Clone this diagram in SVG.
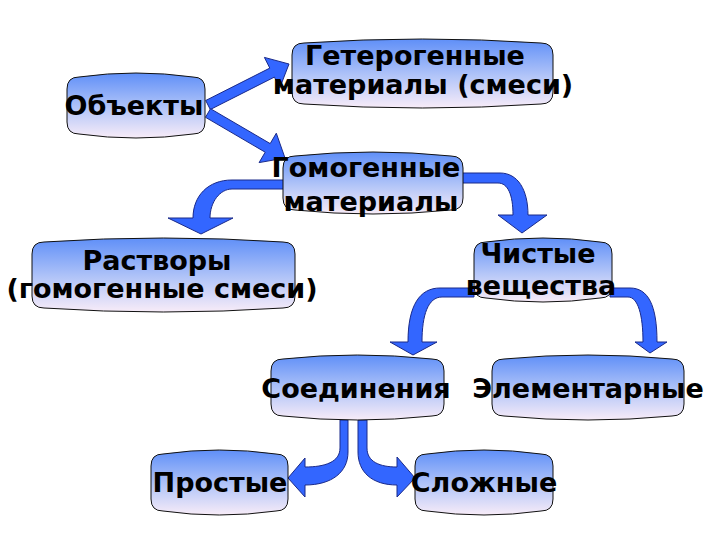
<svg xmlns="http://www.w3.org/2000/svg" width="720" height="540" viewBox="0 0 720 540">
<defs>
<linearGradient id="g" x1="0" y1="0" x2="0" y2="1">
<stop offset="0" stop-color="#5f8ff8"/>
<stop offset="0.55" stop-color="#b4c6f8"/>
<stop offset="1" stop-color="#f8ecf8"/>
</linearGradient>
<style>
.box{fill:url(#g);stroke:#111;stroke-width:1}
.t{font-family:"DejaVu Sans","Liberation Sans",sans-serif;font-weight:bold;font-size:27px;fill:#000;text-anchor:middle}
.arr{fill:#3366ff;stroke:#1a2a8a;stroke-width:1;stroke-linejoin:round}
</style>
</defs>
<rect width="720" height="540" fill="#fff"/>
<g id="connectors">
<path class="arr" d="M205.7,100.5 L269.8,68.1 L264.4,57.4 L289,64 L279.8,87.8 L274.4,77.1 L210.3,109.5 Z"/>
<path class="arr" d="M210.5,108.7 L270.2,143.6 L276.3,133.2 L285,158 L259.1,162.6 L265.2,152.2 L205.5,117.3 Z"/>
<path class="arr" d="M285,180 L232,180 C208,180 193,196 193,218 L168,218 L201,234 L233,218 L210,218 C210,202 220,189 232,189 L285,189 Z"/>
<path class="arr" d="M462,173 L500,173 C518,173 528,190 528,215 L547,215 L522,233 L498,215 L513,215 C513,195 508,183 498,183 L462,183 Z"/>
<path class="arr" d="M474,288 L440,288 C420,288 408,305 408,342 L390,342 L413,355 L437,342 L422,342 C422,315 428,297 442,297 L474,297 Z"/>
<path class="arr" d="M610,288 L630,288 C648,288 657,305 657,342 L667,342 L650,353 L635,342 L643,342 C643,315 638,297 628,297 L610,297 Z"/>
<path class="arr" d="M340,420 L348,420 L348,452 C348,472 332,485 305,485 L305,497 L288,478 L305,458 L305,467 C325,467 340,462 340,448 Z"/>
<path class="arr" d="M358,420 L367,420 L367,448 C367,462 380,467 397,467 L397,457 L415,478 L397,497 L397,485 C372,485 358,472 358,452 Z"/>
</g>
<g id="n-objekty">
<path class="box" d="M67,89 Q67,77 79,77 Q136,69 193,77 Q205,77 205,89 L205,122 Q205,134 193,134 Q136,142 79,134 Q67,134 67,122 Z"/>
<text class="t" x="134" y="115">Объекты</text>
</g>
<g id="n-hetero">
<path class="box" d="M292,55 Q292,43 304,43 Q422,35 541,43 Q553,43 553,55 L553,92 Q553,104 541,104 Q422,112 304,104 Q292,104 292,92 Z"/>
<text class="t" x="415" y="65">Гетерогенные</text>
<text class="t" x="423" y="94">материалы (смеси)</text>
</g>
<g id="n-homo">
<path class="box" d="M283,168 Q283,156 295,156 Q373,148 451,156 Q463,156 463,168 L463,198 Q463,210 451,210 Q373,218 295,210 Q283,210 283,198 Z"/>
<text class="t" x="366" y="177">Гомогенные</text>
<text class="t" x="371" y="211">материалы</text>
</g>
<g id="n-rastvory">
<path class="box" d="M32,254 Q32,242 44,242 Q163,234 283,242 Q295,242 295,254 L295,296 Q295,308 283,308 Q163,316 44,308 Q32,308 32,296 Z"/>
<text class="t" x="157" y="270">Растворы</text>
<text class="t" x="162" y="298">(гомогенные смеси)</text>
</g>
<g id="n-chistye">
<path class="box" d="M474,254 Q474,242 486,242 Q543,234 600,242 Q612,242 612,254 L612,286 Q612,298 600,298 Q543,306 486,298 Q474,298 474,286 Z"/>
<text class="t" x="538" y="263">Чистые</text>
<text class="t" x="541" y="295">вещества</text>
</g>
<g id="n-soedinenia">
<path class="box" d="M271,371 Q271,359 283,359 Q357,351 432,359 Q444,359 444,371 L444,404 Q444,416 432,416 Q357,424 283,416 Q271,416 271,404 Z"/>
<text class="t" x="356" y="398">Соединения</text>
</g>
<g id="n-elementarnye">
<path class="box" d="M492,371 Q492,359 504,359 Q588,351 672,359 Q684,359 684,371 L684,404 Q684,416 672,416 Q588,424 504,416 Q492,416 492,404 Z"/>
<text class="t" x="588" y="398">Элементарные</text>
</g>
<g id="n-prostye">
<path class="box" d="M151,466 Q151,454 163,454 Q219,446 276,454 Q288,454 288,466 L288,499 Q288,511 276,511 Q219,519 163,511 Q151,511 151,499 Z"/>
<text class="t" x="220" y="492">Простые</text>
</g>
<g id="n-slozhnye">
<path class="box" d="M415,466 Q415,454 427,454 Q484,446 541,454 Q553,454 553,466 L553,499 Q553,511 541,511 Q484,519 427,511 Q415,511 415,499 Z"/>
<text class="t" x="484" y="492">Сложные</text>
</g>
</svg>
